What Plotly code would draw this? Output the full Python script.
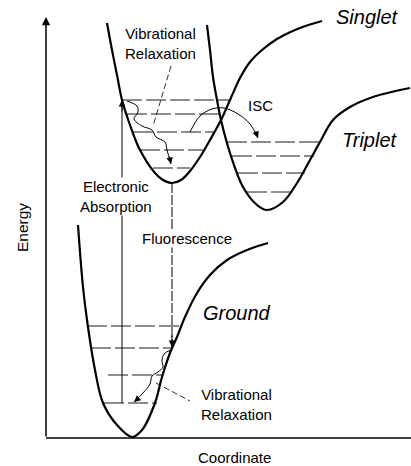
import plotly.graph_objects as go

# ---- data (coordinate units, energy units) ----
singlet_x = [61, 66, 71, 76, 84, 94, 109, 117, 126, 135, 144, 154, 164, 175, 184, 194, 204, 216, 231, 254, 276]
singlet_e = [415, 388, 363, 338, 313, 288, 265, 258, 255, 258, 267, 281, 298, 318, 338, 360, 376, 388, 399, 410, 417]

triplet_x = [161, 164, 167, 171, 175, 184, 197, 211, 221, 237, 251, 264, 274, 287, 304, 327, 364]
triplet_e = [413, 388, 361, 338, 318, 285, 251, 233, 228, 236, 255, 278, 296, 318, 331, 341, 350]

ground_x = [32, 37, 42, 49, 57, 71, 86, 96, 109, 116, 124, 131, 139, 151, 164, 181, 201, 222]
ground_e = [213, 151, 111, 68, 35, 13, 1, 8, 35, 61, 85, 101, 121, 145, 163, 178, 188, 195]

singlet_levels_e = [338, 324, 306, 288, 270]
singlet_levels_x0 = [76, 81, 87, 94, 107]
singlet_levels_x1 = [184, 178, 169, 157, 144]

triplet_levels_e = [296, 282, 265, 246]
triplet_levels_x0 = [181, 186, 192, 201]
triplet_levels_x1 = [274, 268, 259, 248]

ground_levels_e = [112, 90, 63, 35]
ground_levels_x0 = [41, 45, 62, 58]
ground_levels_x1 = [137, 127, 117, 111]

absorption_x = 76
absorption_e = [35, 338]
fluor_x = 126
fluor_e = [255, 91]

vr_top_x = [81, 91, 92, 88, 96, 106, 110, 119, 121, 125]
vr_top_e = [337, 332, 326, 319, 312, 308, 301, 296, 288, 274]

vr_bot_x = [125, 118, 116, 117, 112, 106, 104, 97, 88]
vr_bot_e = [88, 84, 77, 71, 66, 62, 54, 45, 36]

isc_x = [144, 154, 166, 178, 192, 204, 212]
isc_e = [306, 322, 329, 330, 324, 314, 300]

ptr_top_x = [125, 107]
ptr_top_e = [372, 312]
ptr_bot_x = [110, 144]
ptr_bot_e = [55, 37]

labels = [
    ("Vibrational<br>Relaxation", 114, 395, False, 15),
    ("ISC", 214, 333, False, 15),
    ("Singlet", 321, 421, True, 20),
    ("Triplet", 324, 298, True, 20),
    ("Ground", 191, 125, True, 20),
    ("Vibrational<br>Relaxation", 190, 34, False, 15),
]
boxed_labels = [
    ("Electronic<br>Absorption", 70, 242),
    ("Fluorescence", 141, 200),
]

FONT = "Liberation Sans, Arial, Helvetica, sans-serif"

fig = go.Figure()

def line(x, y, width=1.0, dash="solid", spline=False):
    fig.add_trace(go.Scatter(
        x=x, y=y, mode="lines",
        line=dict(color="black", width=width, dash=dash,
                  shape="spline" if spline else "linear", smoothing=1.0),
        hoverinfo="skip", showlegend=False))

LEVEL_DASH = "20px,4px"
# energy levels
for e, a, b in zip(singlet_levels_e, singlet_levels_x0, singlet_levels_x1):
    line([a, b], [e, e], 0.9, LEVEL_DASH)
for e, a, b in zip(triplet_levels_e, triplet_levels_x0, triplet_levels_x1):
    line([a, b], [e, e], 0.9, LEVEL_DASH)
for e, a, b in zip(ground_levels_e, ground_levels_x0, ground_levels_x1):
    line([a, b], [e, e], 0.9, LEVEL_DASH)

# potential curves
line(singlet_x, singlet_e, 2.2, spline=True)
line(triplet_x, triplet_e, 2.2, spline=True)
line(ground_x, ground_e, 2.2, spline=True)

# absorption / fluorescence verticals
line([absorption_x, absorption_x], absorption_e, 1.0)
line([fluor_x, fluor_x], fluor_e, 1.0, "10px,2px")

# wavy relaxation, ISC arc, pointers
line(vr_top_x, vr_top_e, 1.0, spline=True)
line(vr_bot_x, vr_bot_e, 1.0, spline=True)
line(isc_x, isc_e, 1.0, spline=True)
line(ptr_top_x, ptr_top_e, 0.8, "6px,3px")
line(ptr_bot_x, ptr_bot_e, 0.8, "6px,3px")

# axes
line([0, 365], [0, 0], 1.5)

annotations = []

def arrow(x, y, ax, ay, width=1.0, size=1.0, head=2):
    annotations.append(dict(x=x, y=y, ax=ax, ay=ay, xref="x", yref="y",
                            axref="x", ayref="y", text="", showarrow=True,
                            arrowhead=head, arrowsize=size, arrowwidth=width,
                            arrowcolor="black"))

arrow(0, 421, 0, 0, 1.5, 1.1)                          # energy axis
arrow(absorption_x, 338, absorption_x, 325, 1.0, 1.3)  # absorption head
arrow(fluor_x, 91, fluor_x, 104, 1.0, 1.3)             # fluorescence head
arrow(vr_top_x[-1], vr_top_e[-1], 123, 283, 1.0, 1.3)
arrow(vr_bot_x[-1], vr_bot_e[-1], 94, 41, 1.0, 1.3)
arrow(isc_x[-1], isc_e[-1], 209, 308, 1.0, 1.3)

for t, x, y, it, sz in labels:
    annotations.append(dict(x=x, y=y, xref="x", yref="y", text=t, showarrow=False,
                            font=dict(family=FONT, size=sz, color="black",
                                      style="italic" if it else "normal"),
                            align="center"))
for t, x, y in boxed_labels:
    annotations.append(dict(x=x, y=y, xref="x", yref="y", text=t, showarrow=False,
                            bgcolor="white", borderpad=0,
                            font=dict(family=FONT, size=15, color="black"),
                            align="center"))

annotations.append(dict(x=-24, y=210, xref="x", yref="y", text="Energy", textangle=-90,
                        showarrow=False, font=dict(family=FONT, size=15.5, color="black")))
annotations.append(dict(x=188, y=-19, xref="x", yref="y", text="Coordinate",
                        showarrow=False, font=dict(family=FONT, size=15, color="black")))

fig.update_layout(
    width=411, height=466,
    margin=dict(l=0, r=0, t=0, b=0),
    paper_bgcolor="white", plot_bgcolor="white",
    xaxis=dict(range=[-46, 365], visible=False, fixedrange=True),
    yaxis=dict(range=[-28, 438], visible=False, fixedrange=True),
    annotations=annotations,
    showlegend=False,
)

fig.write_html("out.html", config={"displayModeBar": False},
               post_script="document.body.style.margin='0';document.body.style.overflow='hidden';")
